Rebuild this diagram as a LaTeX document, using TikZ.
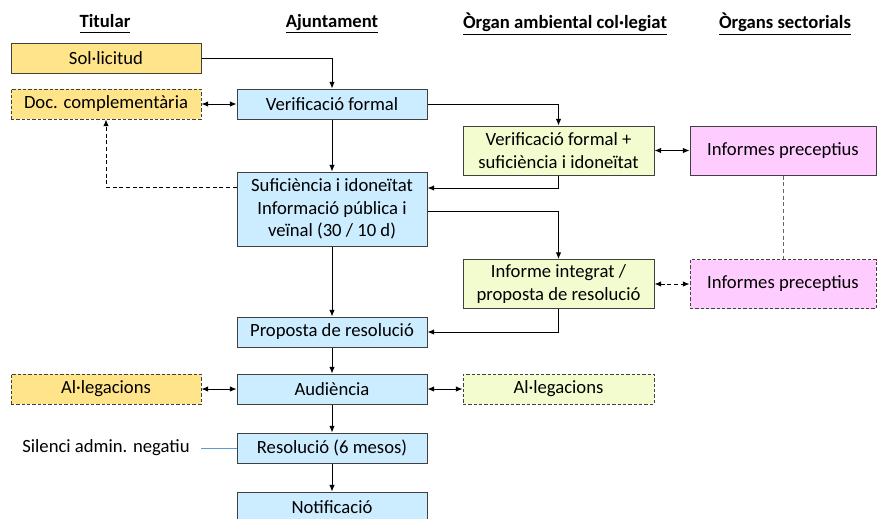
\documentclass[tikz,border=0pt]{standalone}
\usepackage{fontspec}
\setmainfont{Carlito}
\usetikzlibrary{arrows.meta}
\definecolor{titfill}{HTML}{FFE48A}
\definecolor{ajfill}{HTML}{CCECFF}
\definecolor{orgfill}{HTML}{F3FCCE}
\definecolor{secfill}{HTML}{FFCCFF}
\definecolor{boxline}{HTML}{404040}
\definecolor{silline}{HTML}{5B9BD5}
\newcommand{\headline}[1]{\underline{\vphantom{gj}#1}}
\begin{document}
\begin{tikzpicture}[x=0.75pt,y=-0.75pt,
  font=\fontsize{14}{17}\selectfont,
  box/.style={draw=boxline,line width=0.75pt,inner sep=0pt,align=center,
    minimum width=142.5pt,minimum height=22.5pt},
  tall/.style={minimum height=36.75pt},
  dbox/.style={dash pattern=on 2.5pt off 1.5pt},
  head/.style={font=\fontsize{14}{17}\selectfont\bfseries},
  arr/.style={line width=0.75pt,-{Latex[length=5pt,width=4.2pt]}},
  dbl/.style={line width=0.75pt,{Latex[length=5pt,width=4.2pt]}-{Latex[length=5pt,width=4.2pt]}}]
\clip(0,0)rectangle(877,518);
% column heads
\draw(105,24)node[head](hTit){\headline{Titular}}
(332,24)node[head](hAj){\headline{Ajuntament}}
(565,24)node[head](hOrg){\headline{Òrgan ambiental col·legiat}}
(785,24)node[head](hSec){\headline{Òrgans sectorials}};
% titular
\draw(106,58.5)node[box,fill=titfill](sol){Sol·licitud}
(106,104)node[box,dbox,fill=titfill](doc){Doc. complementària}
(106,389)node[box,dbox,fill=titfill](alA){Al·legacions}
(106,448)node[minimum width=142.5pt,inner sep=0pt](sil){Silenci admin. negatiu};
% ajuntament
\draw(332,104)node[box,fill=ajfill](verif){Verificació formal}
(332,209)node[box,fill=ajfill,minimum height=55.5pt](sufi){Suficiència i idoneïtat\\Informació pública i\\veïnal (30 / 10 d)}
(332,332)node[box,fill=ajfill](prop){Proposta de resolució}
(332,389)node[box,fill=ajfill](aud){Audiència}
(332,448)node[box,fill=ajfill](res){Resolució (6 mesos)}
(332,507)node[box,fill=ajfill](noti){Notificació};
% organ ambiental i sectorials
\draw(558.5,150.5)node[box,tall,fill=orgfill,minimum width=143.25pt](vfs){Verificació formal +\\suficiència i idoneïtat}
(558.5,284)node[box,tall,fill=orgfill,minimum width=143.25pt](integ){Informe integrat /\\proposta de resolució}
(558.5,389)node[box,dbox,fill=orgfill,minimum width=143.25pt](alB){Al·legacions}
(783,150.5)node[box,tall,fill=secfill,minimum width=139.5pt](infA){Informes preceptius}
(783,284)node[box,tall,dbox,fill=secfill,minimum width=139.5pt](infB){Informes preceptius};
% fluxos
\draw[arr](sol.east)-|(verif.north);
\draw[dbl](doc)--(verif);
\draw[arr](verif.east)-|(vfs.north);
\draw[arr](verif)--(sufi);
\draw[arr,dash pattern=on 3pt off 2pt]([yshift=16.5pt]sufi.west)-|(doc.south);
\draw[arr](vfs.south)|-([yshift=15.75pt]sufi.east);
\draw[arr]([yshift=-1.5pt]sufi.east)-|(integ.north);
\draw[dbl](vfs)--(infA);
\draw[dbl,dash pattern=on 3pt off 2pt](integ)--(infB);
\draw[boxline!80,line width=0.6pt,dash pattern=on 3pt off 2pt](infA)--(infB);
\draw[arr](integ.south)|-(prop.east);
\draw[arr](sufi)--(prop);
\draw[arr](prop)--(aud);
\draw[arr](aud)--(res);
\draw[arr](res)--(noti);
\draw[dbl](alA)--(aud);
\draw[dbl](aud)--(alB);
\draw[silline,line width=0.75pt](sil)--(res);
\end{tikzpicture}
\end{document}
